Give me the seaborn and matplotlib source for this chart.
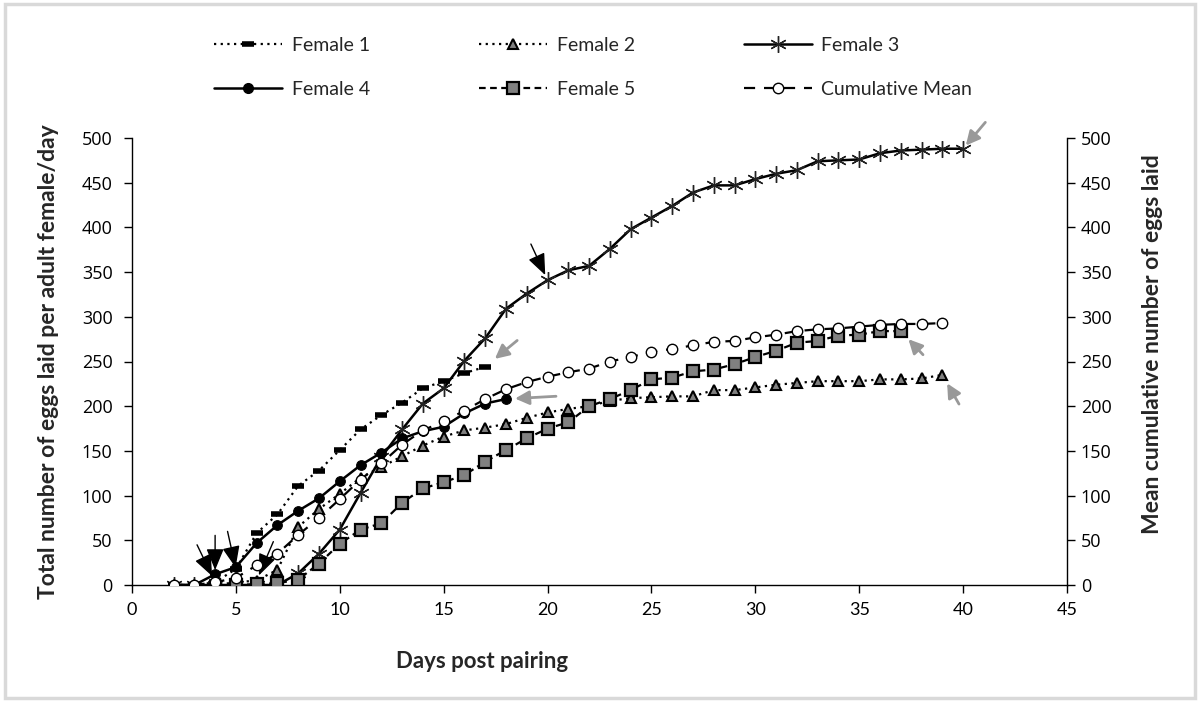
import numpy as np
import pandas as pd
import matplotlib
matplotlib.use("Agg")
import matplotlib.pyplot as plt
from matplotlib.lines import Line2D
from matplotlib.patches import Rectangle
import seaborn as sns

# ---------------- data ----------------
days_f1 = list(range(2, 18))
female1 = [0, 0, 3, 18, 58, 79, 111, 128, 151, 174, 190, 204, 220, 228, 237, 244]

days_f2 = list(range(2, 40))
female2 = [0, 0, 0, 3, 5, 17, 65, 85, 102, 120, 132, 144, 156, 166, 173, 176, 180, 187,
           193, 197, 200, 206, 209, 210, 211, 211, 218, 218, 221, 224, 226, 228, 228, 228,
           230, 230, 231, 235]

days_f3 = list(range(2, 41))
female3 = [0, 0, 0, 0, 0, 0, 13, 35, 62, 103, 143, 174, 203, 220, 251, 276, 309, 326,
           341, 352, 357, 376, 398, 411, 424, 439, 447, 447, 454, 460, 464, 474, 475, 476,
           483, 486, 487, 488, 488]

days_f4 = list(range(2, 19))
female4 = [0, 0, 12, 20, 47, 67, 83, 97, 116, 134, 148, 164, 172, 177, 192, 203, 208]

days_f5 = list(range(5, 38))
female5 = [0, 1, 2, 6, 24, 46, 62, 69, 92, 108, 115, 123, 138, 151, 164, 175, 182, 200,
           208, 218, 230, 232, 239, 241, 247, 255, 262, 271, 273, 279, 280, 284, 284]

days_mean = list(range(2, 40))
cum_mean = [0, 0, 3, 8, 22, 35, 56, 75, 96, 118, 136, 157, 173, 183, 195, 208, 219, 227,
            233, 238, 242, 250, 255, 261, 264, 268, 272, 273, 277, 280, 284, 286, 287, 289,
            291, 292, 292, 293]

series_names = ["Female 1", "Female 2", "Female 3", "Female 4", "Female 5", "Cumulative Mean"]
x_ticks = list(range(0, 50, 5))
y_ticks = list(range(0, 550, 50))

# ---------------- style ----------------
sns.set_theme(style="white")
plt.rcParams["font.family"] = ["Lato", "DejaVu Sans"]

GRAY = "#808080"
styles = {
    "Female 1": dict(color="black", linestyle=(0, (1, 2)), linewidth=1.6, marker="_",
                     markersize=9, markeredgewidth=4, markeredgecolor="black"),
    "Female 2": dict(color="black", linestyle=(0, (1, 2)), linewidth=1.6, marker="^",
                     markersize=7.5, markerfacecolor=GRAY, markeredgecolor="black",
                     markeredgewidth=1.5),
    "Female 3": dict(color="black", linestyle="-", linewidth=1.8, marker=(6, 2, 0),
                     markersize=12, markeredgewidth=1.0, markeredgecolor="#222222"),
    "Female 4": dict(color="black", linestyle="-", linewidth=1.8, marker="o",
                     markersize=7, markerfacecolor="black", markeredgecolor="black"),
    "Female 5": dict(color="black", linestyle=(0, (3, 2)), linewidth=1.6, marker="s",
                     markersize=9, markerfacecolor=GRAY, markeredgecolor="black",
                     markeredgewidth=1.6),
    "Cumulative Mean": dict(color="black", linestyle=(0, (5, 4)), linewidth=1.6, marker="o",
                            markersize=7.5, markerfacecolor="white", markeredgecolor="black",
                            markeredgewidth=1.0),
}

fig = plt.figure(figsize=(12, 7.02), dpi=100)
ax = fig.add_axes([132 / 1200, 1 - 585 / 702, (1067 - 132) / 1200, (585 - 138) / 702])
ax2 = ax.twinx()

data = {
    "Female 1": (days_f1, female1),
    "Female 2": (days_f2, female2),
    "Female 3": (days_f3, female3),
    "Female 4": (days_f4, female4),
    "Female 5": (days_f5, female5),
    "Cumulative Mean": (days_mean, cum_mean),
}

order = ["Female 3", "Female 1", "Female 2", "Female 5", "Female 4"]
for i, name in enumerate(order):
    d, v = data[name]
    df = pd.DataFrame({"day": d, "val": v})
    sns.lineplot(data=df, x="day", y="val", ax=ax, estimator=None, sort=False,
                 zorder=3 + i, **styles[name])
dm, vm = data["Cumulative Mean"]
sns.lineplot(data=pd.DataFrame({"day": dm, "val": vm}), x="day", y="val", ax=ax2,
             estimator=None, sort=False, zorder=5, **styles["Cumulative Mean"])

for a in (ax, ax2):
    a.set_xlim(0, 45)
    a.set_ylim(0, 500)
    a.set_yticks(y_ticks)
ax.set_xticks(x_ticks)

ax.set_xlabel("Days post pairing", fontsize=16, fontweight="bold")
ax.xaxis.set_label_coords((482 - 132) / 935, -0.148)
ax.set_ylabel("Total number of eggs laid per adult female/day", fontsize=16.5,
              fontweight="bold", labelpad=16)
ax2.set_ylabel("Mean cumulative number of eggs laid", fontsize=16.5, fontweight="bold",
               labelpad=18)
ax2.yaxis.set_label_coords(1.080, (585 - 344) / 447)

for a in (ax, ax2):
    for s in a.spines.values():
        s.set_visible(False)
ax.spines["left"].set_visible(True)
ax.spines["bottom"].set_visible(True)
ax2.spines["right"].set_visible(True)
for s in (ax.spines["left"], ax.spines["bottom"], ax2.spines["right"]):
    s.set_color("black")
    s.set_linewidth(1.0)

ax.tick_params(axis="y", left=True, direction="out", length=6, width=1, labelsize=13,
               pad=8, colors="black")
ax.tick_params(axis="x", bottom=True, direction="out", length=6, width=1, labelsize=13,
               pad=6, colors="black")
ax2.tick_params(axis="y", right=True, direction="out", length=6, width=1, labelsize=13,
                pad=4, colors="black")
for lab in ax.get_yticklabels() + ax2.get_yticklabels():
    lab.set_fontfamily(["Open Sans", "DejaVu Sans"])

# ---------------- annotation arrows ----------------
black_arrows = [("Female 1", 4, (-13, 27), 5), ("Female 4", 4, (0, 28), 3),
                ("Female 1", 5, (-6, 27), 1), ("Female 2", 6, (12, 28), 4),
                ("Female 3", 20, (-12, 26), 4)]
for name, day, off, shr in black_arrows:
    d, v = data[name]
    y = v[d.index(day)]
    ax.annotate("", xy=(day, y), xytext=off, textcoords="offset points",
                arrowprops=dict(arrowstyle="-|>,head_length=1.1,head_width=0.45",
                                color="black", lw=1.0, shrinkA=0, shrinkB=shr),
                zorder=10)

gray_arrows = [("Female 3", (16, 19), 3), ("Female 1", (23, 19), 9),
               ("Female 4", (36, 2), 6.5), ("Female 5", (16, -17), 8),
               ("Female 2", (12, -21), 7)]
for name, off, shr in gray_arrows:
    d, v = data[name]
    ax.annotate("", xy=(d[-1], v[-1]), xytext=off, textcoords="offset points",
                arrowprops=dict(arrowstyle="-|>,head_length=0.7,head_width=0.35",
                                color="#999999", lw=2.0, shrinkA=0, shrinkB=shr),
                zorder=10)

# ---------------- legend ----------------
def handle(name):
    return Line2D([0], [0], **styles[name])

leg_order = ["Female 1", "Female 4", "Female 2", "Female 5", "Female 3", "Cumulative Mean"]
fig.legend([handle(n) for n in leg_order], leg_order, loc="upper left",
           bbox_to_anchor=(214 / 1200, 1 - 37 / 702), bbox_transform=fig.transFigure,
           ncol=3, frameon=False, fontsize=14, handlelength=3.5, handletextpad=0.5,
           columnspacing=5.6, labelspacing=1.4, borderpad=0, borderaxespad=0)

fig.patches.append(Rectangle((0.004, 0.006), 0.992, 0.988, transform=fig.transFigure,
                             fill=False, edgecolor="#d9d9d9", linewidth=2.5))

fig.savefig("out.png", dpi=100)
